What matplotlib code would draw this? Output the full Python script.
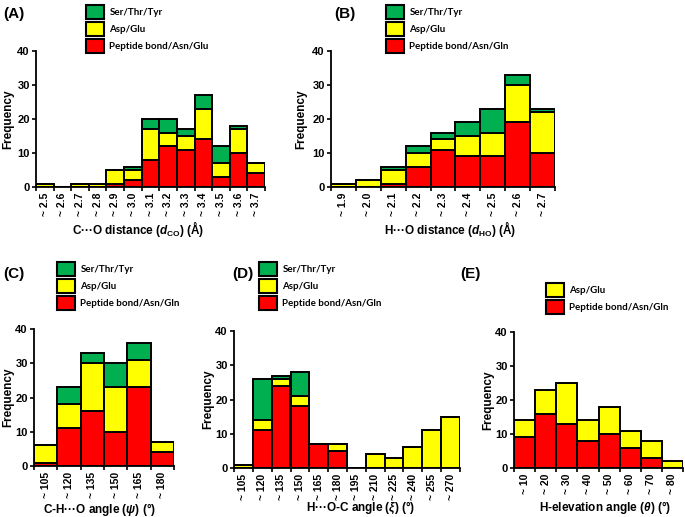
import matplotlib
matplotlib.use("Agg")
import matplotlib.pyplot as plt

plt.rcParams["font.family"] = ["Liberation Sans", "DejaVu Sans"]
plt.rcParams["font.weight"] = "bold"
plt.rcParams["mathtext.fontset"] = "custom"
plt.rcParams["mathtext.rm"] = "Liberation Sans:bold"
plt.rcParams["mathtext.it"] = "Liberation Sans:italic:bold"
plt.rcParams["mathtext.bf"] = "Liberation Sans:bold"

GREEN = "#00B050"
YELLOW = "#FFFF00"
RED = "#FF0000"

# (A) C...O distance
a_bins = ["2.5", "2.6", "2.7", "2.8", "2.9", "3.0", "3.1", "3.2", "3.3", "3.4", "3.5", "3.6", "3.7"]
a_red = [0, 0, 0, 0, 1, 2, 8, 12, 11, 14, 3, 10, 4]
a_yellow = [1, 0, 1, 1, 4, 3, 9, 4, 4, 9, 4, 7, 3]
a_green = [0, 0, 0, 0, 0, 1, 3, 4, 2, 4, 5, 1, 0]

# (B) H...O distance
b_bins = ["1.9", "2.0", "2.1", "2.2", "2.3", "2.4", "2.5", "2.6", "2.7"]
b_red = [0, 0, 1, 6, 11, 9, 9, 19, 10]
b_yellow = [1, 2, 4, 4, 3, 6, 7, 11, 12]
b_green = [0, 0, 1, 2, 2, 4, 7, 3, 1]

# (C) C-H...O angle
c_bins = ["105", "120", "135", "150", "165", "180"]
c_red = [1, 11, 16, 10, 23, 4]
c_yellow = [5, 7, 14, 13, 8, 3]
c_green = [0, 5, 3, 7, 5, 0]

# (D) H...O-C angle
d_bins = ["105", "120", "135", "150", "165", "180", "195", "210", "225", "240", "255", "270"]
d_red = [0, 11, 24, 18, 7, 5, 0, 0, 0, 0, 0, 0]
d_yellow = [1, 3, 2, 3, 0, 2, 0, 4, 3, 6, 11, 15]
d_green = [0, 12, 1, 7, 0, 0, 0, 0, 0, 0, 0, 0]

# (E) H-elevation angle
e_bins = ["10", "20", "30", "40", "50", "60", "70", "80"]
e_red = [9, 16, 13, 8, 10, 6, 3, 0]
e_yellow = [5, 7, 12, 6, 8, 5, 5, 2]

W, H = 685, 517
fig = plt.figure(figsize=(W / 100, H / 100), dpi=100)


def px_axes(x0, x1, ytop, ybot):
    return fig.add_axes([x0 / W, 1 - ybot / H, (x1 - x0) / W, (ybot - ytop) / H])


def hist_panel(ax, bins, red, yellow, green, red_label, xlabel, leg_xy, ylab_x, xlab_xy):
    n = len(bins)
    xs = [i + 0.5 for i in range(n)]
    kw = dict(width=1.0, edgecolor="black", linewidth=1.4)
    bottoms = [0] * n
    handles = []
    r = ax.bar(xs, red, bottom=bottoms, color=RED, label=red_label, **kw)
    handles.append(r)
    bottoms = [b + v for b, v in zip(bottoms, red)]
    y = ax.bar(xs, yellow, bottom=bottoms, color=YELLOW, label="Asp/Glu", **kw)
    handles.append(y)
    bottoms = [b + v for b, v in zip(bottoms, yellow)]
    if green is not None:
        g = ax.bar(xs, green, bottom=bottoms, color=GREEN, label="Ser/Thr/Tyr", **kw)
        handles.append(g)

    ax.set_xlim(0, n)
    ax.set_ylim(0, 40)
    ax.set_yticks([0, 10, 20, 30, 40])
    ax.set_xticks(range(n + 1))
    ax.set_xticklabels([])
    ax.set_xticks(xs, minor=True)
    ax.set_xticklabels(["~ " + b for b in bins], minor=True, rotation=90,
                       fontsize=7.5, fontweight="bold")
    ax.tick_params(axis="x", which="minor", length=0, pad=4)
    ax.tick_params(axis="x", which="major", length=3, width=1.2, direction="out")
    ax.tick_params(axis="y", length=3, width=1.2, labelsize=8, pad=1.5)
    for lbl in ax.get_yticklabels():
        lbl.set_fontweight("bold")
    for s in ["top", "right"]:
        ax.spines[s].set_visible(False)
    for s in ["left", "bottom"]:
        ax.spines[s].set_linewidth(1.3)

    ax.set_ylabel("Frequency", fontsize=8.5, fontweight="bold", va="center")
    pos = ax.get_position()
    ax.yaxis.set_label_coords(ylab_x / W, pos.y0 + pos.height / 2, transform=fig.transFigure)
    ax.set_xlabel(xlabel, fontsize=8.5, fontweight="bold", va="center")
    ax.xaxis.set_label_coords(xlab_xy[0] / W, 1 - xlab_xy[1] / H, transform=fig.transFigure)

    leg = ax.legend(handles[::-1], [h.get_label() for h in handles[::-1]],
                    loc="upper left", bbox_to_anchor=(leg_xy[0] / W, 1 - leg_xy[1] / H),
                    bbox_transform=fig.transFigure, frameon=False,
                    prop={"family": ["Lato", "DejaVu Sans"], "weight": "bold", "size": 7},
                    handlelength=1.8, handleheight=1.8, labelspacing=0.35,
                    handletextpad=0.6, borderpad=0, borderaxespad=0)
    for p in leg.get_patches():
        p.set_linewidth(1.5)
    return ax


axA = px_axes(36, 265, 51, 187)
hist_panel(axA, a_bins, a_red, a_yellow, a_green, "Peptide bond/Asn/Glu",
           r"C···O distance ($d_{\rm CO}$) (Å)", (86, 5), 8, (138, 229))
axB = px_axes(331, 555, 51, 187)
hist_panel(axB, b_bins, b_red, b_yellow, b_green, "Peptide bond/Asn/Gln",
           r"H···O distance ($d_{\rm HO}$) (Å)", (386, 5), 301, (450, 229))
axC = px_axes(34, 174, 329, 466)
hist_panel(axC, c_bins, c_red, c_yellow, c_green, "Peptide bond/Asn/Gln",
           r"C-H···O angle ($\psi$) (°)", (57, 262), 8, (100, 509))
axD = px_axes(234, 460, 331, 468)
hist_panel(axD, d_bins, d_red, d_yellow, d_green, "Peptide bond/Asn/Gln",
           r"H···O-C angle ($\xi$) (°)", (259, 262), 208, (361, 508))
axE = px_axes(514, 683, 332, 468)
hist_panel(axE, e_bins, e_red, e_yellow, None, "Peptide bond/Asn/Gln",
           r"H-elevation angle ($\theta$) (°)", (546, 283), 488, (605, 508))

for lab, (x, y) in {"(A)": (3, 14), "(B)": (334, 14), "(C)": (3, 274),
                    "(D)": (232, 274), "(E)": (460, 274)}.items():
    fig.text(x / W, 1 - y / H, lab, fontsize=11, fontweight="bold", va="center", ha="left")

fig.savefig("out.png", dpi=100)
